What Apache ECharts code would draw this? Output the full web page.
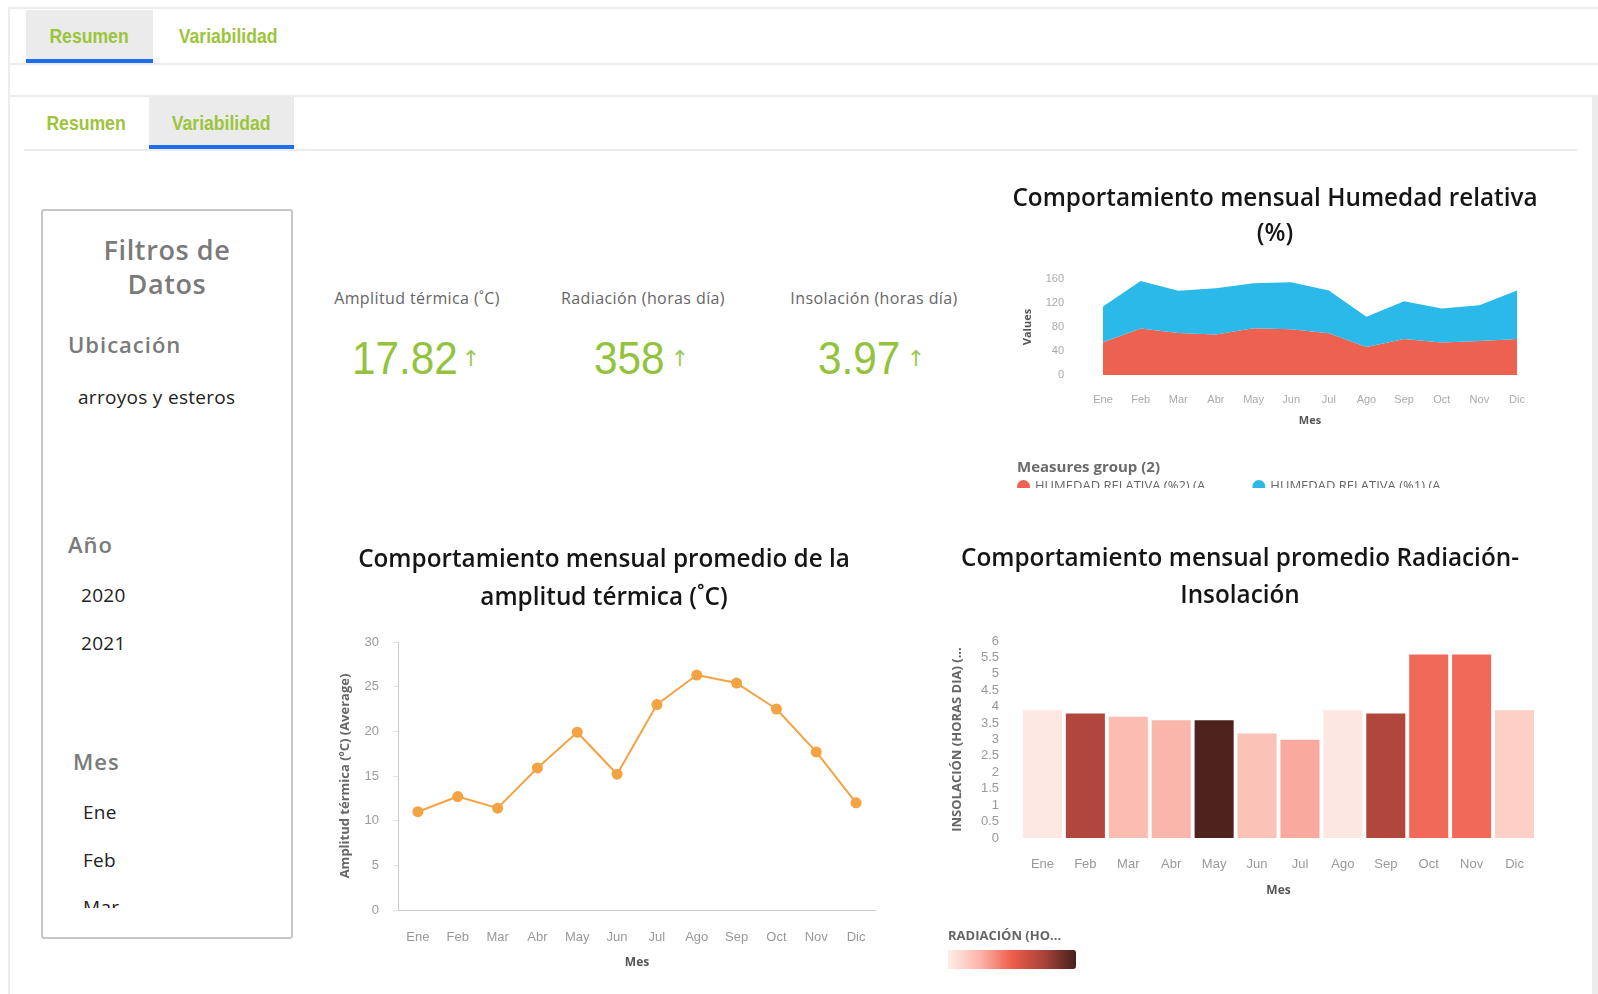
<!DOCTYPE html>
<html>
<head>
<meta charset="utf-8">
<title>Variabilidad</title>
<script src="https://cdn.jsdelivr.net/npm/echarts/dist/echarts.min.js"></script>
<style>
  body { margin: 0; width: 1598px; height: 994px; overflow: hidden; background: #fff; font-family: "Open Sans", "Noto Sans", sans-serif; }
  .abs { position: absolute; }
  .hline { position: absolute; height: 2px; background: #ececec; }
  .vline { position: absolute; width: 2px; background: #ededed; }
  .tab { position: absolute; font-family: "Liberation Sans", Arial, sans-serif; font-weight: bold; font-size: 20px; color: #9cc43c; text-align: center; }
  .tab span { display: inline-block; transform: scaleX(0.88); }
  .tab.on { background: #ebebeb; border-bottom: 4px solid #1f6ef0; box-sizing: border-box; }
  #filtros { position: absolute; left: 41px; top: 209px; width: 252px; height: 730px; border: 2px solid #c6c6c6; border-radius: 3px; box-sizing: border-box; }
  #filtrosClip { position: absolute; left: 0; top: 0; width: 248px; height: 697px; overflow: hidden; }
  .ft { position: absolute; white-space: nowrap; }
  .fh { color: #7a7a7a; font-weight: 600; font-size: 22px; letter-spacing: 1px; }
  .fv { color: #222; font-size: 19px; letter-spacing: 0.3px; }
  .kpiL { position: absolute; width: 240px; text-align: center; color: #666; font-size: 16px; font-weight: 500; letter-spacing: 0.4px; line-height: 20px; }
  .kpiV { position: absolute; white-space: nowrap; color: #93c23d; font-family: "Liberation Sans", Arial, sans-serif; font-size: 47px; line-height: 47px; transform: scaleX(0.9); transform-origin: left center; }
  .kpiA { position: absolute; width: 20px; text-align: center; font-family: "DejaVu Sans", sans-serif; font-size: 22px; line-height: 26px; color: #9cc956; }
</style>
</head>
<body>

<!-- marco y pestañas -->
<div class="hline" style="left:9px; top:7px; width:1589px;"></div>
<div class="vline" style="left:8px; top:7px; height:987px;"></div>
<div class="hline" style="left:9px; top:63px; width:1589px;"></div>
<div class="hline" style="left:9px; top:95px; width:1583px;"></div>
<div class="hline" style="left:24px; top:149px; width:1553px;"></div>
<div class="abs" style="left:1592px; top:95px; width:6px; height:899px; background:#ececec;"></div>

<div class="tab on" style="left:26px; top:10px; width:127px; height:53px; line-height:53px;"><span>Resumen</span></div>
<div class="tab" style="left:160px; top:10px; width:136px; height:53px; line-height:53px;"><span>Variabilidad</span></div>
<div class="tab" style="left:26px; top:97px; width:120px; height:52px; line-height:52px;"><span>Resumen</span></div>
<div class="tab on" style="left:149px; top:97px; width:145px; height:52px; line-height:52px;"><span>Variabilidad</span></div>

<!-- filtros -->
<div id="filtros"><div id="filtrosClip">
  <div class="ft fh" style="left:0; width:248px; text-align:center; top:22px; font-size:27px; line-height:34px; white-space:normal; letter-spacing:0.6px;">Filtros de<br>Datos</div>
  <div class="ft fh" style="left:25px; top:118px; line-height:30px;">Ubicación</div>
  <div class="ft fv" style="left:35px; top:171px; line-height:30px;">arroyos y esteros</div>
  <div class="ft fh" style="left:25px; top:318px; line-height:30px;">Año</div>
  <div class="ft fv" style="left:38px; top:369px; line-height:30px;">2020</div>
  <div class="ft fv" style="left:38px; top:417px; line-height:30px;">2021</div>
  <div class="ft fh" style="left:30px; top:535px; line-height:30px;">Mes</div>
  <div class="ft fv" style="left:40px; top:586px; line-height:30px;">Ene</div>
  <div class="ft fv" style="left:40px; top:634px; line-height:30px;">Feb</div>
  <div class="ft fv" style="left:40px; top:681px; line-height:30px;">Mar</div>
</div></div>

<!-- indicadores -->
<div class="kpiL" style="left:297px; top:288px;">Amplitud térmica (˚C)</div>
<div class="kpiL" style="left:523px; top:288px;">Radiación (horas día)</div>
<div class="kpiL" style="left:754px; top:288px;">Insolación (horas día)</div>
<div class="kpiV" id="kpi0" style="left:352px; top:334px;"></div>
<div class="kpiV" id="kpi1" style="left:594px; top:334px;"></div>
<div class="kpiV" id="kpi2" style="left:818px; top:334px;"></div>
<div class="kpiA" style="left:461px; top:346px;">↑</div>
<div class="kpiA" style="left:670px; top:346px;">↑</div>
<div class="kpiA" style="left:906px; top:346px;">↑</div>

<!-- graficos -->
<div class="abs" style="left:990px; top:165px; width:570px; height:323px; overflow:hidden;">
  <div id="hum" style="width:570px; height:360px;"></div>
</div>
<div id="linea" class="abs" style="left:320px; top:520px; width:568px; height:474px;"></div>
<div id="barras" class="abs" style="left:900px; top:520px; width:680px; height:474px;"></div>

<script>
var meses = ['Ene', 'Feb', 'Mar', 'Abr', 'May', 'Jun', 'Jul', 'Ago', 'Sep', 'Oct', 'Nov', 'Dic'];

// humedad relativa, dos medidas apiladas
var humedad2 = [54.5, 77.5, 70, 67.4, 78, 76.4, 69.7, 46.6, 60, 54, 56.7, 60];
var humedad1 = [59.5, 79, 70.4, 77, 74.8, 78, 71.3, 50.6, 63, 56.7, 59.6, 81];

// amplitud termica promedio
var amplitud = [11.0, 12.7, 11.4, 15.9, 19.9, 15.2, 23.0, 26.3, 25.4, 22.5, 17.7, 12.0];

// insolacion (altura) y radiacion (color)
var insolacion = [3.89, 3.79, 3.69, 3.59, 3.59, 3.18, 2.99, 3.89, 3.79, 5.59, 5.59, 3.89];
var radiacion = [304, 412, 334, 338, 452, 330, 344, 305, 412, 372, 372, 321];

var kpiValores = ['17.82', '358', '3.97'];

var tituloFont = { fontFamily: 'Open Sans', fontSize: 24.3, fontWeight: 600, color: '#151515' };
var ejeNombre = { fontFamily: 'Open Sans', fontWeight: 'bold', color: '#555' };

function kpis() {
    kpiValores.forEach(function (v, i) {
        document.getElementById('kpi' + i).textContent = v;
    });
}

function grafHumedad() {
    var chart = echarts.init(document.getElementById('hum'));
    chart.setOption({
        animation: false,
        title: {
            text: 'Comportamiento mensual Humedad relativa\n(%)',
            left: 'center', top: 12,
            textStyle: Object.assign({ lineHeight: 35 }, tituloFont)
        },
        graphic: [{
            type: 'text', left: 27, top: 295,
            style: { text: 'Measures group (2)', fontFamily: 'Open Sans', fontSize: 15, fontWeight: 'bold', fill: '#6a6a6a' }
        }],
        legend: {
            left: 27, top: 315, padding: 0, icon: 'circle', itemWidth: 13, itemHeight: 13, itemGap: 37,
            textStyle: { fontFamily: 'Open Sans', fontSize: 13, color: '#666', width: 185, overflow: 'truncate' },
            data: ['HUMEDAD RELATIVA (%2) (Average)', 'HUMEDAD RELATIVA (%1) (Average)']
        },
        grid: { left: 113, right: 43, top: 114, height: 96 },
        xAxis: {
            type: 'category', data: meses, boundaryGap: false,
            axisLine: { show: false }, axisTick: { show: false },
            axisLabel: { color: '#aaa', fontSize: 11, margin: 19 },
            name: 'Mes', nameLocation: 'middle', nameGap: 40,
            nameTextStyle: Object.assign({ fontSize: 11 }, ejeNombre)
        },
        yAxis: {
            type: 'value', min: 0, max: 160, interval: 40,
            splitLine: { show: false },
            axisLabel: { color: '#aaa', fontSize: 11, margin: 39 },
            name: 'Values', nameLocation: 'middle', nameGap: 70,
            nameTextStyle: Object.assign({ fontSize: 11 }, ejeNombre)
        },
        series: [{
            name: 'HUMEDAD RELATIVA (%2) (Average)', type: 'line', stack: 'h', data: humedad2,
            showSymbol: false, lineStyle: { width: 0 }, itemStyle: { color: '#ed6150' },
            areaStyle: { color: '#ed6150', opacity: 1 }
        }, {
            name: 'HUMEDAD RELATIVA (%1) (Average)', type: 'line', stack: 'h', data: humedad1,
            showSymbol: false, lineStyle: { width: 0 }, itemStyle: { color: '#2bb9ea' },
            areaStyle: { color: '#2bb9ea', opacity: 1 }
        }]
    });
}

function grafAmplitud() {
    var chart = echarts.init(document.getElementById('linea'));
    chart.setOption({
        animation: false,
        title: {
            text: 'Comportamiento mensual promedio de la\namplitud térmica (˚C)',
            left: 'center', top: 16,
            textStyle: Object.assign({ lineHeight: 38 }, tituloFont)
        },
        grid: { left: 78, right: 12, top: 122, bottom: 84 },
        xAxis: {
            type: 'category', data: meses,
            axisLine: { lineStyle: { color: '#ccc' } },
            axisTick: { alignWithLabel: true, length: 6, lineStyle: { color: '#e2e2e2' } },
            axisLabel: { color: '#999', fontSize: 13, margin: 21 },
            name: 'Mes', nameLocation: 'middle', nameGap: 47,
            nameTextStyle: Object.assign({ fontSize: 12 }, ejeNombre)
        },
        yAxis: {
            type: 'value', min: 0, max: 30, interval: 5,
            splitLine: { show: false },
            axisLine: { show: true, lineStyle: { color: '#ccc' } },
            axisTick: { show: true, length: 5, lineStyle: { color: '#e2e2e2' } },
            axisLabel: { color: '#999', fontSize: 13, margin: 19 },
            name: 'Amplitud térmica (ºC) (Average)', nameLocation: 'middle', nameGap: 46,
            nameTextStyle: { fontFamily: 'Open Sans', fontWeight: 'bold', fontSize: 13, color: '#666' }
        },
        series: [{
            type: 'line', data: amplitud, symbol: 'circle', symbolSize: 11,
            itemStyle: { color: '#f4a242' }, lineStyle: { color: '#f4a242', width: 2 }
        }]
    });
}

function grafRadiacion() {
    var chart = echarts.init(document.getElementById('barras'));
    var datos = meses.map(function (m, i) { return [m, insolacion[i], radiacion[i]]; });
    chart.setOption({
        animation: false,
        title: {
            text: 'Comportamiento mensual promedio Radiación-\nInsolación',
            left: 'center', top: 16,
            textStyle: Object.assign({ lineHeight: 37 }, tituloFont)
        },
        graphic: [{
            type: 'text', left: 48, top: 410,
            style: { text: 'RADIACIÓN (HO...', fontFamily: 'Open Sans', fontSize: 13, fontWeight: 'bold', fill: '#666' }
        }],
        visualMap: {
            type: 'continuous', seriesIndex: 0, dimension: 2, min: 300, max: 455,
            orient: 'horizontal', left: 48, top: 430, padding: 0, itemWidth: 19, itemHeight: 128,
            calculable: false,
            inRange: { color: ['#fdeeea', '#fbb5aa', '#ef5d4c', '#a8433a', '#46201c'] }
        },
        grid: { left: 121, right: 44, top: 121, bottom: 156 },
        xAxis: {
            type: 'category', data: meses,
            axisLine: { show: false }, axisTick: { show: false },
            axisLabel: { color: '#999', fontSize: 13, margin: 20 },
            name: 'Mes', nameLocation: 'middle', nameGap: 47,
            nameTextStyle: Object.assign({ fontSize: 12 }, ejeNombre)
        },
        yAxis: {
            type: 'value', min: 0, max: 6, interval: 0.5,
            splitLine: { show: false }, axisLine: { show: false }, axisTick: { show: false },
            axisLabel: { color: '#999', fontSize: 13, margin: 22 },
            name: 'INSOLACIÓN (HORAS DIA) (Average)', nameLocation: 'middle', nameGap: 57,
            nameTruncate: { maxWidth: 200, ellipsis: '...' },
            nameTextStyle: { fontFamily: 'Open Sans', fontWeight: 'bold', fontSize: 13, color: '#666' }
        },
        series: [{
            type: 'bar', data: datos, barCategoryGap: '9%',
            encode: { x: 0, y: 1 }
        }]
    });
}

kpis();
grafHumedad();
grafAmplitud();
grafRadiacion();
</script>
</body>
</html>
